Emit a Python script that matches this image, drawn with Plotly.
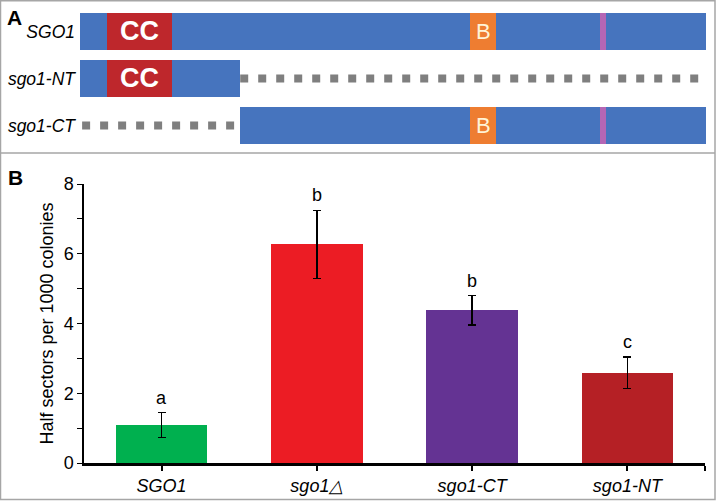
import plotly.graph_objects as go

FONT = "Liberation Sans, Arial, sans-serif"

# ---- panel A: construct maps (residue-like units, 0..590) ----
rows = ["SGO1", "sgo1-NT", "sgo1-CT"]
row_pos = [0, 1, 2]
body_start = [0, 0, 151]
body_end = [590, 151, 590]
cc_start, cc_end = 25, 87
b_start, b_end = 368, 392
mark_start, mark_end = 490, 496
cc_rows = [0, 1]
b_rows = [0, 2]
mark_rows = [0, 2]
# deleted regions (dotted)
gap_rows = [1, 2]
gap_start = [151, 2]
gap_end = [590, 149]

# ---- panel B: half-sector rates ----
strains = ["SGO1", "sgo1\u25b3", "sgo1-CT", "sgo1-NT"]
means = [1.09, 6.27, 4.38, 2.59]
errs = [0.35, 0.98, 0.42, 0.45]
letters = ["a", "b", "b", "c"]
bar_colors = ["#00B04F", "#EC1C24", "#643393", "#B52025"]

fig = go.Figure()

# blue bodies
fig.add_trace(go.Bar(
    y=row_pos, x=[e - s for s, e in zip(body_start, body_end)], base=body_start,
    orientation="h", width=0.79, marker=dict(color="#4674BE", line=dict(width=0)),
    xaxis="x2", yaxis="y2", showlegend=False, hoverinfo="skip"))
# CC domain
fig.add_trace(go.Bar(
    y=cc_rows, x=[cc_end - cc_start] * len(cc_rows), base=[cc_start] * len(cc_rows),
    orientation="h", width=0.79, marker=dict(color="#BE272C", line=dict(width=0)),
    xaxis="x2", yaxis="y2", showlegend=False, hoverinfo="skip"))
# B domain
fig.add_trace(go.Bar(
    y=b_rows, x=[b_end - b_start] * len(b_rows), base=[b_start] * len(b_rows),
    orientation="h", width=0.79, marker=dict(color="#EE7D31", line=dict(width=0)),
    xaxis="x2", yaxis="y2", showlegend=False, hoverinfo="skip"))
# small magenta motif
fig.add_trace(go.Bar(
    y=mark_rows, x=[mark_end - mark_start] * len(mark_rows), base=[mark_start] * len(mark_rows),
    orientation="h", width=0.79, marker=dict(color="#B466B5", line=dict(width=0)),
    xaxis="x2", yaxis="y2", showlegend=False, hoverinfo="skip"))
# dotted deleted regions
for r, s, e in zip(gap_rows, gap_start, gap_end):
    fig.add_trace(go.Scatter(
        x=[s, e], y=[r, r], mode="lines",
        line=dict(color="#7F7F7F", width=8, dash="8px,10px"),
        xaxis="x2", yaxis="y2", showlegend=False, hoverinfo="skip"))

# domain labels
for r in cc_rows:
    fig.add_annotation(x=(cc_start + cc_end) / 2, y=r, xref="x2", yref="y2",
                       text="<b>CC</b>", showarrow=False,
                       font=dict(family=FONT, size=27, color="white"))
for r in b_rows:
    fig.add_annotation(x=(b_start + b_end) / 2, y=r, xref="x2", yref="y2",
                       text="B", showarrow=False,
                       font=dict(family=FONT, size=22, color="#FFF3D6"))

# ---- panel B bars ----
fig.add_trace(go.Bar(
    x=list(range(len(strains))), y=means, width=0.59,
    marker=dict(color=bar_colors, line=dict(width=0)),
    error_y=dict(type="data", array=errs, color="black", thickness=1.3, width=4),
    showlegend=False, hoverinfo="skip"))
for i, (m, e, l) in enumerate(zip(means, errs, letters)):
    fig.add_annotation(x=i, y=m + e, text=l, showarrow=False, yanchor="bottom",
                       yshift=3, font=dict(family=FONT, size=18, color="black"))

fig.update_layout(
    width=717, height=503, margin=dict(l=0, r=0, t=0, b=0, autoexpand=False),
    paper_bgcolor="white", plot_bgcolor="white",
    barmode="overlay", bargap=0,
    font=dict(family=FONT, size=18, color="black"),
    xaxis=dict(domain=[84 / 717, 705 / 717], range=[-0.5, 3.5],
               tickvals=[0, 1, 2, 3, 3.5],
               ticktext=["<i>%s</i>" % s for s in strains] + [""],
               ticks="outside", ticklen=5, tickwidth=1.5, tickcolor="black",
               showline=True, linecolor="black", linewidth=2.5,
               showgrid=False, zeroline=False, fixedrange=True, automargin=False,
               tickfont=dict(family=FONT, size=18)),
    yaxis=dict(domain=[(503 - 463) / 503, (503 - 184) / 503], range=[0, 8],
               tickvals=list(range(9)),
               ticktext=[str(v) if v % 2 == 0 else "" for v in range(9)],
               ticks="outside", ticklen=5, tickwidth=1.3, tickcolor="black",
               showline=True, linecolor="black", linewidth=1.5,
               showgrid=False, zeroline=False, automargin=False,
               title=dict(text="Half sectors per 1000 colonies", standoff=5,
                          font=dict(family=FONT, size=18)),
               tickfont=dict(family=FONT, size=18)),
    xaxis2=dict(domain=[80 / 717, 706 / 717], range=[0, 590], anchor="y2",
                visible=False, fixedrange=True, automargin=False),
    yaxis2=dict(domain=[(503 - 149) / 503, (503 - 8) / 503], range=[2.5, -0.5],
                anchor="x2", tickvals=row_pos,
                ticktext=["<i>%s</i>" % r for r in rows],
                showline=False, showgrid=False, zeroline=False, ticks="",
                automargin=False,
                ticklabelstandoff=4, tickfont=dict(family=FONT, size=17.5)),
)

# panel frames and letters
fig.add_shape(type="rect", xref="paper", yref="paper", x0=0.5 / 717, x1=715 / 717,
              y0=(503 - 499.5) / 503, y1=(503 - 0.8) / 503,
              line=dict(color="#A6A6A6", width=1.5))
fig.add_shape(type="line", xref="paper", yref="paper", x0=0.5 / 717, x1=715 / 717,
              y0=(503 - 153) / 503, y1=(503 - 153) / 503,
              line=dict(color="#A6A6A6", width=1.5))
fig.add_annotation(xref="paper", yref="paper", x=5 / 717, y=(503 - 4) / 503,
                   xanchor="left", yanchor="top", text="<b>A</b>", showarrow=False,
                   font=dict(family=FONT, size=21))
fig.add_annotation(xref="paper", yref="paper", x=6 / 717, y=(503 - 164) / 503,
                   xanchor="left", yanchor="top", text="<b>B</b>", showarrow=False,
                   font=dict(family=FONT, size=21))

# page body margin would shift the fixed-size figure off the window
fig.write_html("out.html", config={"displayModeBar": False},
               post_script="document.body.style.margin='0';")
